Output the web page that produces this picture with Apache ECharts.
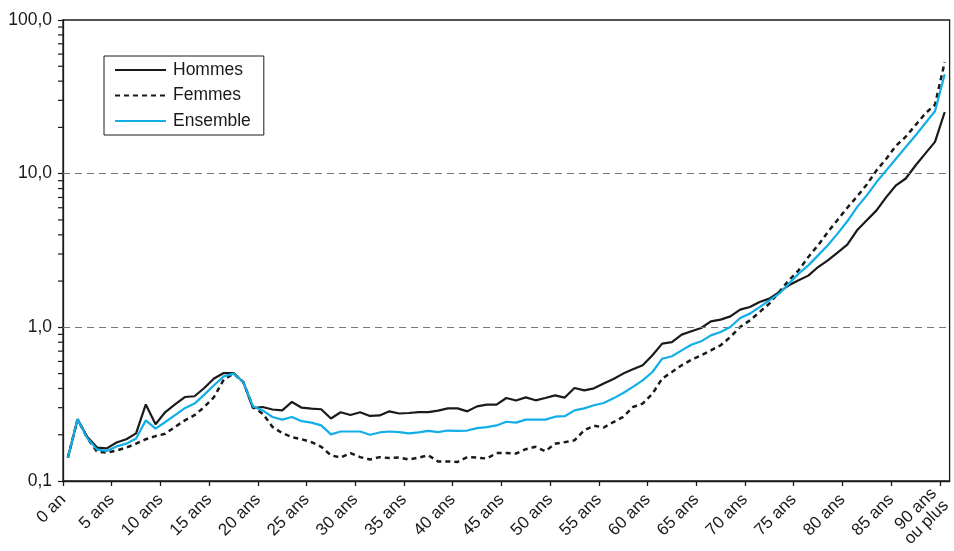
<!DOCTYPE html>
<html>
<head>
<meta charset="utf-8">
<script src="https://cdn.jsdelivr.net/npm/echarts@6/dist/echarts.min.js"></script>
<style>html,body{margin:0;padding:0;background:#fff}#c{width:954px;height:551px}</style>
</head>
<body>
<div id="c"></div>
<script>
// Age in completed years (0 .. 90 = "90 ans ou plus")
const ages = [0,1,2,3,4,5,6,7,8,9,10,11,12,13,14,15,16,17,18,19,20,21,22,23,24,25,26,27,28,29,30,31,32,33,34,35,36,37,38,39,40,41,42,43,44,45,46,47,48,49,50,51,52,53,54,55,56,57,58,59,60,61,62,63,64,65,66,67,68,69,70,71,72,73,74,75,76,77,78,79,80,81,82,83,84,85,86,87,88,89,90];

const hommes = [0.142,0.252,0.193,0.165,0.163,0.178,0.187,0.204,0.315,0.234,
  0.281,0.315,0.352,0.356,0.403,0.464,0.504,0.504,0.441,0.298,
  0.303,0.292,0.288,0.327,0.300,0.296,0.293,0.255,0.280,0.269,
  0.280,0.265,0.267,0.284,0.275,0.277,0.281,0.281,0.287,0.297,
  0.297,0.284,0.306,0.314,0.314,0.347,0.334,0.350,0.335,0.347,
  0.361,0.349,0.403,0.389,0.401,0.431,0.461,0.500,0.533,0.566,
  0.658,0.783,0.802,0.896,0.942,0.990,1.094,1.122,1.179,1.304,
  1.355,1.461,1.537,1.697,1.876,2.022,2.17,2.468,2.73,3.06,
  3.45,4.28,4.97,5.77,7.04,8.4,9.3,11.3,13.5,16.1,25.2];

const femmes = [0.142,0.252,0.190,0.155,0.153,0.158,0.165,0.175,0.187,0.196,
  0.203,0.225,0.248,0.268,0.303,0.352,0.457,0.500,0.441,0.303,
  0.274,0.225,0.205,0.193,0.187,0.179,0.167,0.147,0.142,0.152,
  0.143,0.138,0.143,0.141,0.142,0.138,0.142,0.147,0.134,0.134,
  0.133,0.143,0.142,0.140,0.152,0.152,0.151,0.161,0.167,0.156,
  0.175,0.179,0.184,0.214,0.229,0.223,0.242,0.261,0.303,0.319,
  0.370,0.464,0.512,0.566,0.616,0.658,0.708,0.764,0.865,1.005,
  1.11,1.258,1.426,1.697,2.022,2.35,2.87,3.42,4.17,5.0,
  6.0,7.1,8.5,10.5,12.5,15.2,17.4,20.7,24.6,28.1,53.2];

const ensemble = [0.142,0.252,0.190,0.160,0.157,0.168,0.175,0.189,0.248,0.219,
  0.242,0.268,0.298,0.319,0.365,0.420,0.480,0.500,0.441,0.306,
  0.288,0.261,0.251,0.261,0.245,0.240,0.230,0.201,0.210,0.210,
  0.210,0.200,0.207,0.210,0.208,0.204,0.207,0.212,0.208,0.213,
  0.212,0.213,0.221,0.224,0.230,0.243,0.240,0.251,0.251,0.251,
  0.262,0.264,0.288,0.297,0.311,0.322,0.345,0.374,0.410,0.452,
  0.512,0.625,0.648,0.708,0.771,0.811,0.887,0.932,1.005,1.15,
  1.228,1.355,1.498,1.656,1.924,2.236,2.53,2.94,3.42,4.07,
  4.9,6.06,7.22,8.82,10.5,12.5,14.9,17.7,21.3,25.5,44.3];

const xTickValues = [0,5,10,15,20,25,30,35,40,45,50,55,60,65,70,75,80,85,90];
const xTickLabels = ['0 an','5 ans','10 ans','15 ans','20 ans','25 ans','30 ans','35 ans','40 ans','45 ans','50 ans','55 ans','60 ans','65 ans','70 ans','75 ans','80 ans','85 ans','90 ans\nou plus'];
const yTickValues = [0.1,1,10,100];
const yTickLabels = ['0,1','1,0','10,0','100,0'];
const yMinorTicks = [0.2,0.3,0.4,0.5,0.6,0.7,0.8,0.9,2,3,4,5,6,7,8,9,20,30,40,50,60,70,80,90];
const gridLines = [1,10];

const FONT = 'Liberation Sans, Arial, Helvetica, sans-serif';
const mid = a => a + 0.5; // each age class drawn at the middle of its year
const toPairs = vals => ages.map((a,i)=>[mid(a), vals[i]]);

const chart = echarts.init(document.getElementById('c'), null, {renderer:'canvas'});
chart.setOption({
  animation:false,
  backgroundColor:'#fff',
  textStyle:{fontFamily:FONT},
  grid:{left:63,right:2,top:20,bottom:70,show:true,borderColor:'#1a1a1a',borderWidth:1.3,backgroundColor:'transparent'},
  legend:{
    orient:'vertical', left:104, top:56,
    data:['Hommes','Femmes','Ensemble'],
    itemWidth:51, itemHeight:14, itemGap:7.5,
    padding:[5,13,5,10],
    borderColor:'#1a1a1a', borderWidth:1,
    itemStyle:{opacity:0},
    textStyle:{fontFamily:FONT,fontSize:17.5,color:'#1a1a1a',padding:[0,0,0,2]}
  },
  xAxis:{
    type:'value', min:0, max:91, interval:5,
    axisLine:{show:true,lineStyle:{color:'#1a1a1a',width:1.3}},
    axisTick:{show:true,length:5,inside:false,lineStyle:{color:'#1a1a1a',width:1.3}},
    splitLine:{show:false},
    axisLabel:{
      rotate:45, margin:16, fontSize:17, color:'#1a1a1a', fontFamily:FONT,
      showMaxLabel:false,
      formatter:v=>{const k=xTickValues.indexOf(v);return k>=0?xTickLabels[k]:'';}
    }
  },
  yAxis:{
    type:'log', logBase:10, min:0.1, max:100,
    axisLine:{show:true,lineStyle:{color:'#1a1a1a',width:1.3}},
    axisTick:{show:true,length:5,inside:false,lineStyle:{color:'#1a1a1a',width:1.2}},
    splitLine:{show:false},
    axisLabel:{
      margin:11, fontSize:17.5, color:'#1a1a1a', fontFamily:FONT,
      formatter:v=>{let k=-1;yTickValues.forEach((t,i)=>{if(Math.abs(Math.log10(v)-Math.log10(t))<1e-6)k=i;});return k>=0?yTickLabels[k]:'';}
    }
  },
  series:[
    {
      name:'Hommes', type:'line', data:toPairs(hommes), symbol:'none', z:4,
      lineStyle:{color:'#1a1a1a',width:2.2}, itemStyle:{color:'#1a1a1a'},
      markLine:{
        silent:true, symbol:'none', label:{show:false},
        lineStyle:{color:'#777',type:[7,5],width:1.2},
        data:gridLines.map(v=>({yAxis:v}))
      }
    },
    {
      name:'Femmes', type:'line', data:toPairs(femmes), symbol:'none', z:3,
      lineStyle:{color:'#1a1a1a',width:2.5,type:[5,4]}, itemStyle:{color:'#1a1a1a'}
    },
    {
      name:'Ensemble', type:'line', data:toPairs(ensemble), symbol:'none', z:5,
      lineStyle:{color:'#12aee8',width:2.2}, itemStyle:{color:'#12aee8'}
    },
    {
      type:'custom', name:'minorTicks', silent:true, clip:false,
      data:yMinorTicks.map(v=>[0,v]),
      renderItem:(params,api)=>{
        const p = api.coord([api.value(0), api.value(1)]);
        return {type:'line', shape:{x1:p[0]-5,y1:p[1],x2:p[0],y2:p[1]}, style:{stroke:'#1a1a1a',lineWidth:1.2}};
      }
    }
  ]
});
</script>
</body>
</html>
